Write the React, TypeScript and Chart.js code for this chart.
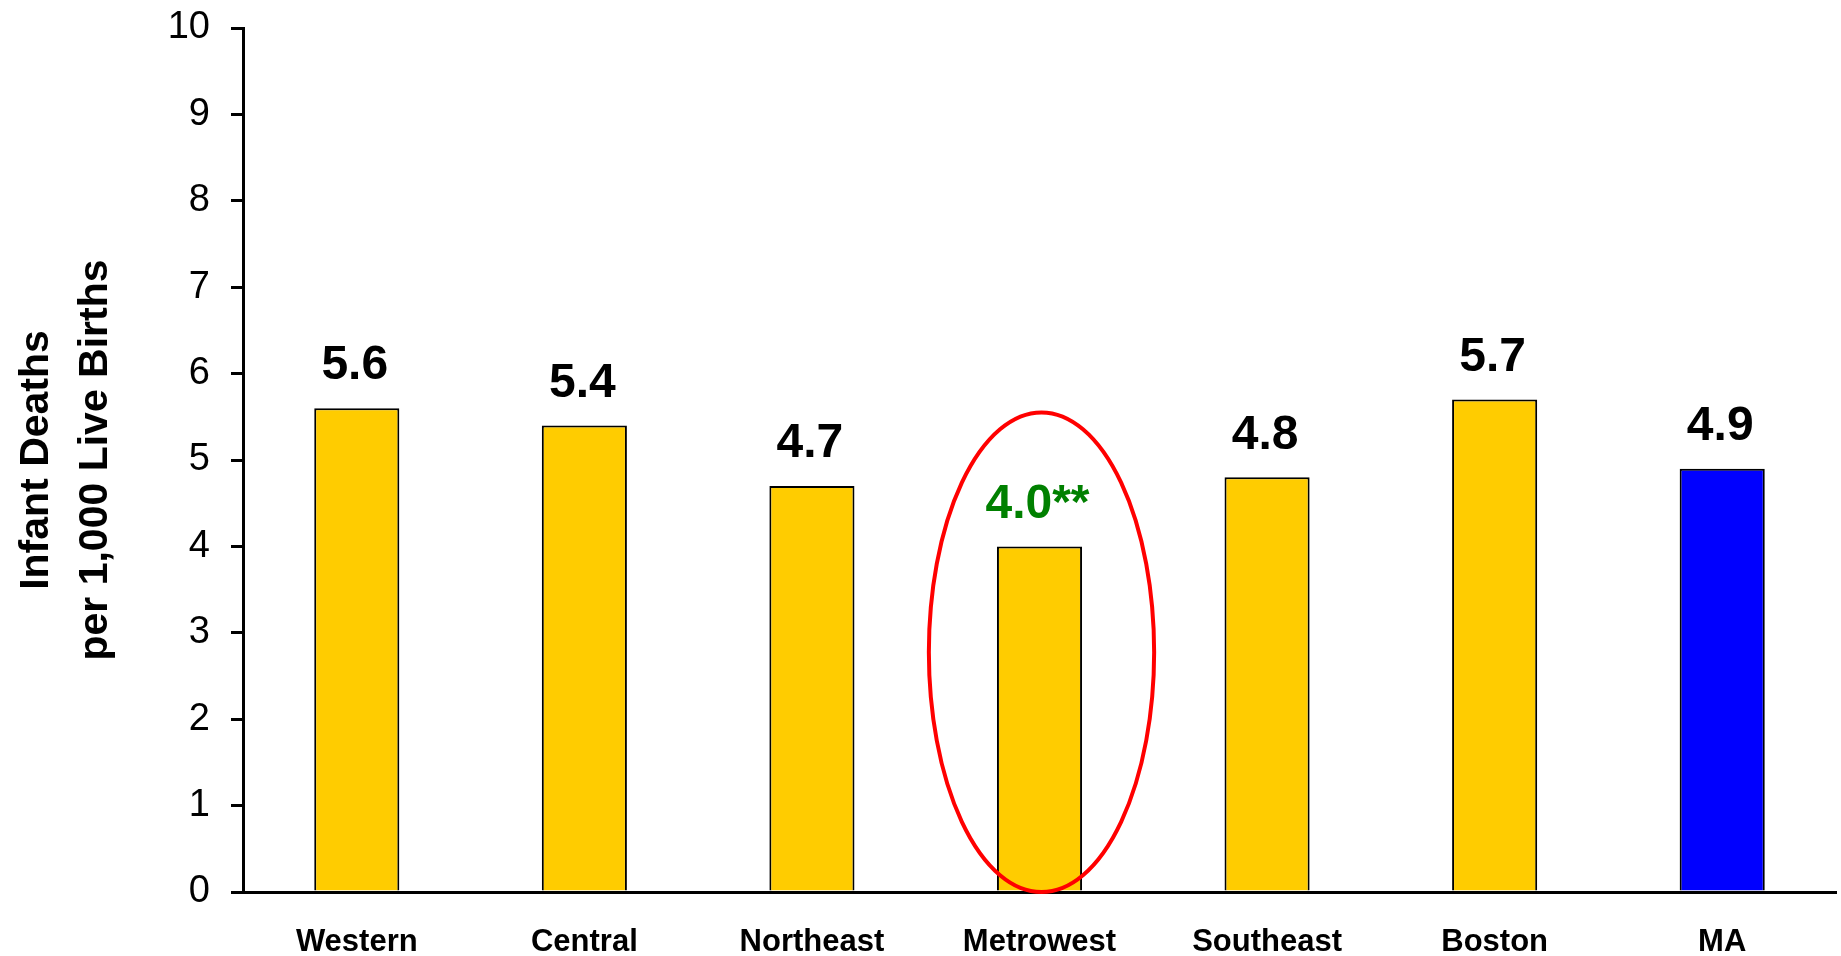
import React, { useEffect, useRef } from "react";
import { Chart, registerables } from "chart.js";

Chart.register(...registerables);

const categories = ["Western", "Central", "Northeast", "Metrowest", "Southeast", "Boston", "MA"];
const rates = [5.6, 5.4, 4.7, 4.0, 4.8, 5.7, 4.9];
const valueLabels = ["5.6", "5.4", "4.7", "4.0**", "4.8", "5.7", "4.9"];
const barColors = ["#FFCC00", "#FFCC00", "#FFCC00", "#FFCC00", "#FFCC00", "#FFCC00", "#0000FF"];
const labelColors = ["#000000", "#000000", "#000000", "#008000", "#000000", "#000000", "#000000"];
const yTitleLines = ["Infant Deaths", "per 1,000 Live Births"];
const highlightCategory = "Metrowest";
const highlightTopValue = 5.55;

const FONT = "'Liberation Sans', Arial, Helvetica, sans-serif";

const valueLabelPlugin = {
  id: "valueLabels",
  afterDatasetsDraw(chart: any) {
    const ctx = chart.ctx;
    const meta = chart.getDatasetMeta(0);
    ctx.save();
    ctx.font = `bold 48px ${FONT}`;
    ctx.textAlign = "center";
    ctx.textBaseline = "middle";
    meta.data.forEach((bar: any, i: number) => {
      ctx.fillStyle = labelColors[i];
      ctx.fillText(valueLabels[i], bar.x - 2, bar.y - 42);
    });
    ctx.restore();
  },
};

const ellipsePlugin = {
  id: "highlightEllipse",
  afterDatasetsDraw(chart: any) {
    const xs = chart.scales.x;
    const ys = chart.scales.y;
    const idx = categories.indexOf(highlightCategory);
    const cx = xs.getPixelForValue(idx);
    const catW = xs.width / categories.length;
    const top = ys.getPixelForValue(highlightTopValue);
    const bottom = ys.getPixelForValue(0);
    const ctx = chart.ctx;
    ctx.save();
    ctx.strokeStyle = "#FF0000";
    ctx.lineWidth = 4;
    ctx.beginPath();
    ctx.ellipse(cx + 2, (top + bottom) / 2, catW * 0.495, (bottom - top) / 2, 0, 0, Math.PI * 2);
    ctx.stroke();
    ctx.restore();
  },
};

export default function App() {
  const ref = useRef<HTMLCanvasElement>(null);
  useEffect(() => {
    if (!ref.current) return;
    const chart = new Chart(ref.current, {
      type: "bar",
      data: {
        labels: categories,
        datasets: [
          {
            data: rates,
            backgroundColor: barColors,
            borderColor: "#000000",
            borderWidth: 2,
            categoryPercentage: 1,
            barPercentage: 0.374,
          },
        ],
      },
      options: {
        responsive: false,
        animation: false,
        layout: { padding: { top: 0, right: 5, left: 0, bottom: 0 } },
        plugins: { legend: { display: false }, tooltip: { enabled: false } },
        scales: {
          x: {
            grid: { display: false, drawOnChartArea: false, drawTicks: false },
            border: { display: true, color: "#000000", width: 3 },
            ticks: {
              color: "#000000",
              font: { family: FONT, size: 31, weight: "bold" },
              padding: 32,
              maxRotation: 0,
              autoSkip: false,
            },
            afterFit(scale: any) {
              scale.height = 64;
              scale.paddingTop = 0;
            },
          },
          y: {
            min: 0,
            max: 10,
            ticks: {
              stepSize: 1,
              color: "#000000",
              font: { family: FONT, size: 38 },
              padding: 21,
            },
            grid: {
              drawOnChartArea: false,
              drawTicks: true,
              tickLength: 12,
              color: "#000000",
              lineWidth: 3,
            },
            border: { display: true, color: "#000000", width: 3 },
            title: {
              display: true,
              text: yTitleLines,
              color: "#000000",
              font: { family: FONT, size: 41, weight: "bold", lineHeight: 1.44 },
              padding: { top: 7, bottom: 0 },
            },
            afterFit(scale: any) {
              scale.width = 243;
              scale.paddingTop = 28;
              scale.paddingBottom = 0;
            },
          },
        },
      },
      plugins: [valueLabelPlugin, ellipsePlugin],
    });
    return () => chart.destroy();
  }, []);
  return (
    <div style={{ position: "absolute", left: 0, top: 0, width: 1841, height: 956, background: "#fff" }}>
      <canvas ref={ref} width={1841} height={956} style={{ display: "block" }} />
    </div>
  );
}
